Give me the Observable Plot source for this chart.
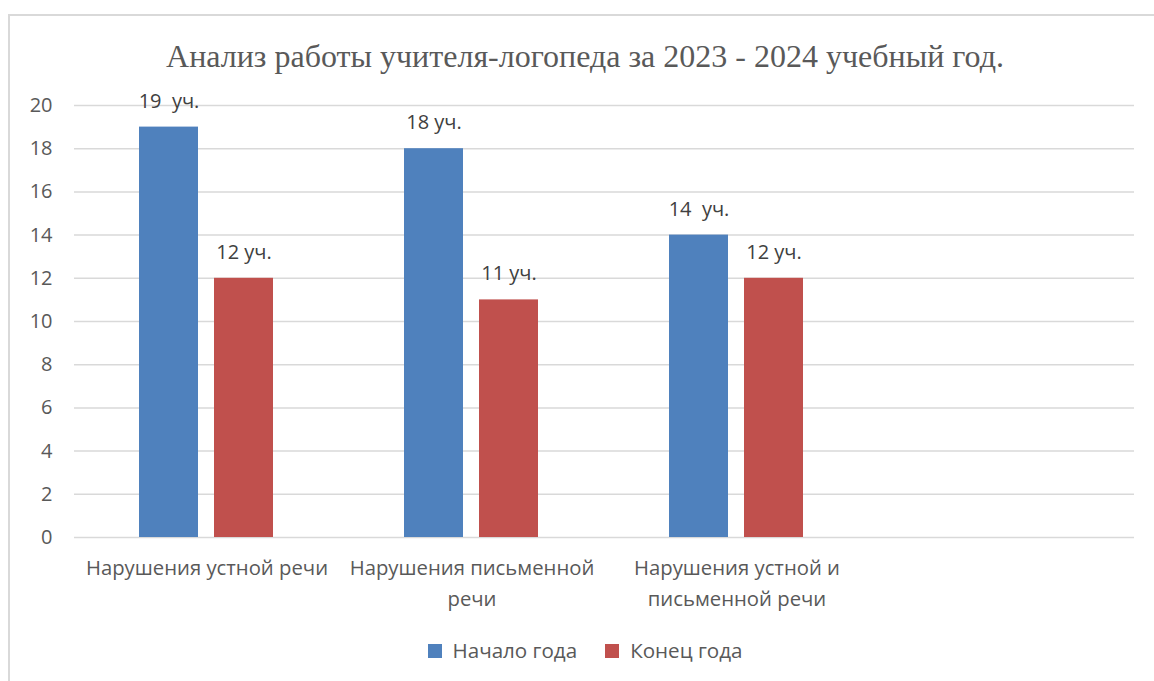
<!DOCTYPE html>
<html>
<head>
<meta charset="utf-8">
<script src="https://cdn.jsdelivr.net/npm/d3@7"></script>
<script src="https://cdn.jsdelivr.net/npm/@observablehq/plot@0.6"></script>
<style>
  html, body { margin: 0; padding: 0; background: #fff; width: 1154px; height: 681px; overflow: hidden; }
  #frame { position: absolute; left: 8px; top: 14px; width: 1160px; height: 700px; border: 2px solid #d9d9d9; box-sizing: border-box; }
  #title { position: absolute; left: 0; width: 1170px; top: 38px; text-align: center; font-family: "Liberation Serif", serif; font-size: 32px; color: #595959; white-space: nowrap; }
  #chart { position: absolute; left: 0; top: 85px; }
  #chart svg { white-space: pre; }
  #legend { position: absolute; left: 0; width: 1170px; top: 636px; text-align: center; font-family: "Open Sans", sans-serif; font-size: 20.6px; color: #595959; white-space: nowrap; }
  #legend span.item { display: inline-block; margin: 0 14px; }
  #legend span.sw { display: inline-block; width: 14px; height: 14px; margin-right: 11px; vertical-align: 0px; }
</style>
</head>
<body>
<div id="frame"></div>
<div id="title">Анализ работы учителя-логопеда за 2023 - 2024 учебный год.</div>
<div id="chart"></div>
<div id="legend"></div>
<script>
const categories = ["Нарушения устной речи", "Нарушения письменной\nречи", "Нарушения устной и\nписьменной речи", ""];
const seriesNames = ["Начало года", "Конец года"];
const startValues = [19, 18, 14];
const endValues = [12, 11, 12];
const startLabels = ["19  уч.", "18 уч.", "14  уч."];
const endLabels = ["12 уч.", "11 уч.", "12 уч."];
const yTicks = [0, 2, 4, 6, 8, 10, 12, 14, 16, 18, 20];
const colors = ["#4f81bd", "#c0504d"];

const data = [];
startValues.forEach((v, i) => data.push({cat: categories[i], series: seriesNames[0], value: v, label: startLabels[i]}));
endValues.forEach((v, i) => data.push({cat: categories[i], series: seriesNames[1], value: v, label: endLabels[i]}));
const gridData = categories.flatMap(c => yTicks.map(v => ({cat: c, v})));

const chart = Plot.plot({
  width: 1154,
  height: 527,
  marginLeft: 72,
  marginRight: 19,
  marginTop: 20,
  marginBottom: 75,
  style: {fontFamily: "Open Sans, sans-serif", fontSize: "20px", color: "#595959", background: "transparent"},
  fx: {domain: categories, padding: 0, label: null},
  x: {domain: seriesNames, paddingInner: 0.21, paddingOuter: 0.855, axis: null},
  y: {domain: [0, 20], ticks: yTicks, label: null},
  color: {domain: seriesNames, range: colors},
  marks: [
    Plot.ruleY(gridData, {fx: "cat", y: "v", stroke: "#d9d9d9", strokeWidth: 1.5}),
    Plot.axisY(yTicks, {tickSize: 0, tickPadding: 22, label: null, fill: "#595959", fontSize: 20}),
    Plot.axisFx({anchor: "bottom", tickSize: 0, tickPadding: 16, label: null, fill: "#595959", fontSize: 20.3, lineHeight: 1.5, textAnchor: "middle", lineAnchor: "top"}),
    Plot.barY(data, {fx: "cat", x: "series", y: "value", fill: "series"}),
    Plot.text(data, {fx: "cat", x: "series", y: "value", text: "label", dy: -26, fill: "#404040", fontSize: 20})
  ]
});
document.getElementById("chart").appendChild(chart);

const legend = document.getElementById("legend");
seriesNames.forEach((name, i) => {
  const item = document.createElement("span");
  item.className = "item";
  const sw = document.createElement("span");
  sw.className = "sw";
  sw.style.background = colors[i];
  item.appendChild(sw);
  item.appendChild(document.createTextNode(name));
  legend.appendChild(item);
});
</script>
</body>
</html>
